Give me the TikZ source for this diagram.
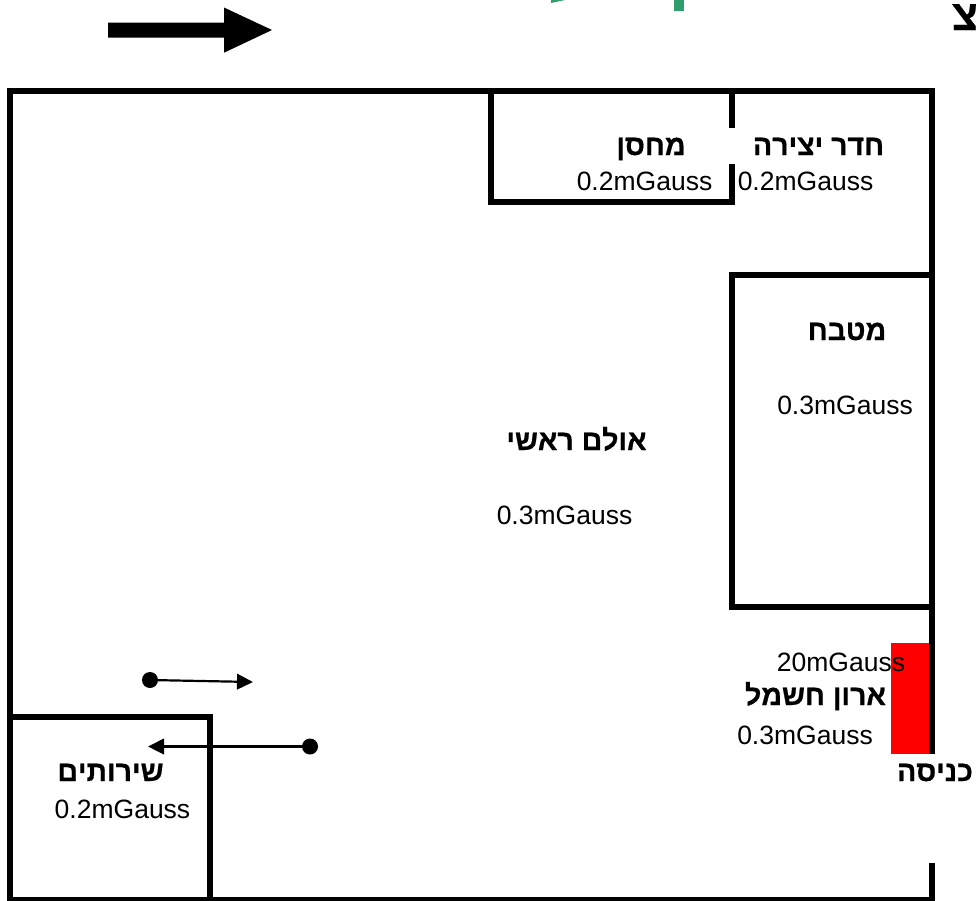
\documentclass[tikz,border=0pt]{standalone}
\usepackage{fontspec}
\setmainfont{Liberation Sans}
\newfontfamily\hebbold[BoldFont={Liberation Sans Bold},BoldFeatures={FakeBold=0.6}]{Liberation Sans}
\TeXXeTstate=1
\usetikzlibrary{arrows.meta}
\definecolor{leafgreen}{HTML}{2F9E6C}
\tikzset{
  wall/.style={line width=6pt,line cap=butt,line join=miter,draw=black},
  heb/.style={anchor=base,inner sep=0pt,outer sep=0pt,font=\fontsize{28.5pt}{30pt}\selectfont\hebbold\bfseries},
  val/.style={anchor=base,inner sep=0pt,outer sep=0pt,font=\fontsize{26.5pt}{28pt}\selectfont},
  dot/.style={circle,fill=black,inner sep=0pt,minimum size=16pt},
  thin arrow/.style={line width=2.2pt,-{Triangle[length=16pt,width=15.5pt]}},
}
\newcommand{\rl}[1]{\beginR #1\endR}
\begin{document}
\begin{tikzpicture}[x=1pt,y=-1pt]
\useasboundingbox (0,0) rectangle (976,900);
% green fragments cut by the top edge
\fill[leafgreen] (674,0) rectangle (684,11);
\fill[leafgreen] (551,3) -- (551,0) -- (565,0) -- cycle;
% big arrow
\fill[black] (108,22.7) -- (224,22.7) -- (224,7.5) -- (272,30) -- (224,52.7) -- (224,37.7) -- (108,37.7) -- cycle;
% red cabinet
\fill[red] (891,643) rectangle (929.5,754);
% outer walls
\draw[wall] (932,754) -- (932,90.5) -- (10,90.5) -- (10,900) -- (932,900) -- (932,863);
% store room
\draw[wall] (491,90.5) -- (491,201.5) -- (732,201.5) -- (732,164);
\draw[wall] (732,90.5) -- (732,128);
% kitchen
\draw[wall] (932,274.5) -- (732,274.5) -- (732,606.5) -- (932,606.5);
% toilets
\draw[wall] (10,716.5) -- (210,716.5) -- (210,900);
% labels
\node[heb] (store) at (651,155) {\rl{מחסן}};
\node[val] (storev) at (644.5,190.5) {0.2mGauss};
\node[heb] (craft) at (818.5,155) {\rl{חדר יצירה}};
\node[val] (craftv) at (805.5,190.5) {0.2mGauss};
\node[heb] (kitchen) at (847,340) {\rl{מטבח}};
\node[val] (kitchenv) at (845,414) {0.3mGauss};
\node[heb] (hall) at (576.5,450) {\rl{אולם ראשי}};
\node[val] (hallv) at (564.5,524) {0.3mGauss};
\node[val] (cabv) at (841,671.5) {20mGauss};
\node[heb] (cab) at (815.5,705) {\rl{ארון חשמל}};
\node[val] (cabw) at (805,744) {0.3mGauss};
\node[heb] (entry) at (935,781) {\rl{כניסה}};
\node[heb] (wc) at (110.5,781) {\rl{שירותים}};
\node[val] (wcv) at (122.5,818.5) {0.2mGauss};
\node[anchor=base,inner sep=0pt,font=\fontsize{42.5pt}{44pt}\selectfont\hebbold\bfseries] (tsadi) at (965,30) {\rl{צ}};
% door arrows
\node[dot] (d1) at (150,680) {};
\coordinate (t1) at (253,682);
\draw[thin arrow] (d1) -- (t1);
\node[dot] (d2) at (310,746.5) {};
\coordinate (t2) at (148,746.5);
\draw[thin arrow] (d2) -- (t2);
\end{tikzpicture}
\end{document}
